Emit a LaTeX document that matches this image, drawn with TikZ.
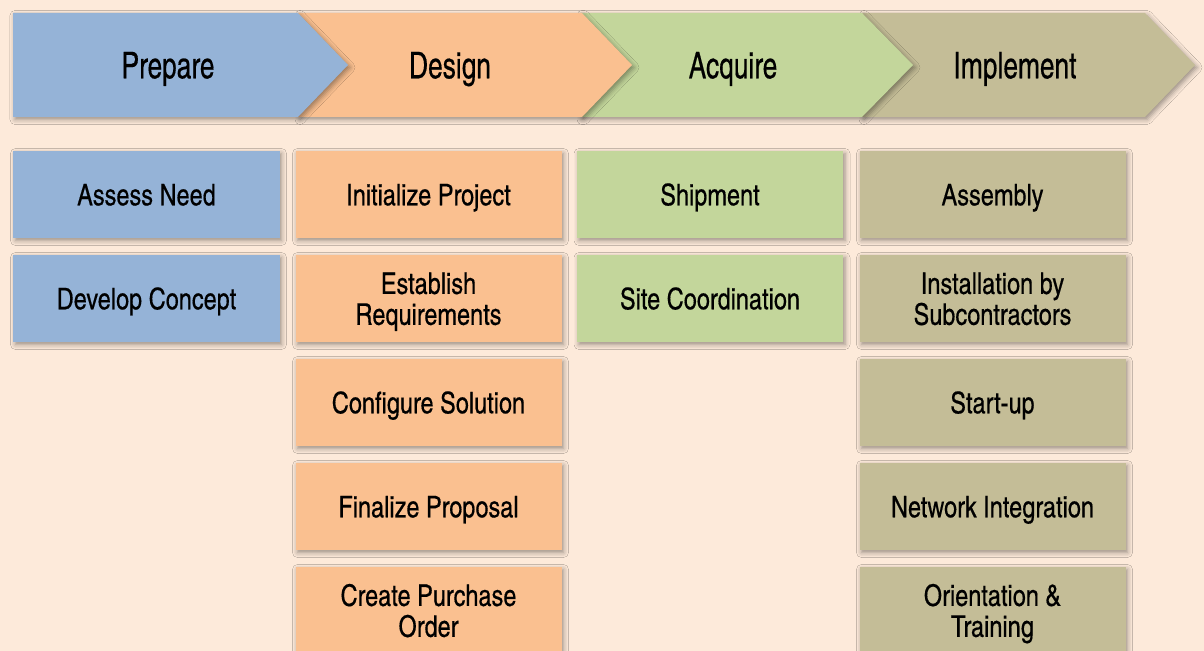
\documentclass[tikz,border=0pt]{standalone}
\usepackage{fontspec}
\setmainfont{texgyreheroscn-regular.otf}
\newfontfamily\phasefont[FakeStretch=0.87,FakeBold=0.4]{texgyreheroscn-regular.otf}
\newfontfamily\boxfont[FakeStretch=0.96,FakeBold=0.4]{texgyreheroscn-regular.otf}
\usetikzlibrary{shadows.blur}
\definecolor{bg}{HTML}{FDEADA}
\definecolor{cblue}{HTML}{95B3D7}
\definecolor{corange}{HTML}{FAC090}
\definecolor{cgreen}{HTML}{C3D69B}
\definecolor{ctan}{HTML}{C4BD97}
\tikzset{
  shad/.style={blur shadow={shadow xshift=2bp, shadow yshift=-2.5bp, shadow blur radius=5bp, shadow opacity=40}},
  chev/.style={shad},
  phase/.style={font=\phasefont\fontsize{37}{40}\selectfont, inner sep=0pt, text height=26.6bp, text depth=0pt},
  box/.style={shad, minimum width=266bp, minimum height=87bp, inner sep=0pt, align=center, font=\boxfont\fontsize{30}{31}\selectfont},
  one/.style={text height=21.6bp, text depth=0pt},
  two/.style={text height=52.6bp, text depth=0pt},
}
\begin{document}
\begin{tikzpicture}[x=1bp,y=-1bp]
\fill[bg] (0,0) rectangle (1204,651);
\useasboundingbox (0,0) rectangle (1204,651);
% chevrons, drawn right to left so each tip overlaps the next
\fill[ctan, chev] (862,13) -- (1145,13) -- (1195,65) -- (1145,117) -- (862,117) -- cycle;
\fill[cgreen, chev] (580,13) -- (862,13) -- (913,65) -- (862,117) -- (580,117) -- cycle;
\fill[corange, chev] (298,13) -- (582,13) -- (632,65) -- (582,117) -- (298,117) -- cycle;
\fill[cblue, chev] (13,13) -- (298,13) -- (348,65) -- (298,117) -- (13,117) -- cycle;
\node[phase] (prepare) at (168,65) {Prepare};
\node[phase] (design) at (450,65) {Design};
\node[phase] (acquire) at (733,65) {Acquire};
\node[phase] (implement) at (1015,65) {Implement};
% Prepare
\node[box, one, fill=cblue] (p1) at (146.5,194.5) {Assess Need};
\node[box, one, fill=cblue] (p2) at (146.5,298.5) {Develop Concept};
% Design
\node[box, one, fill=corange] (d1) at (428.5,194.5) {Initialize Project};
\node[box, two, fill=corange] (d2) at (428.5,298.5) {Establish\\Requirements};
\node[box, one, fill=corange] (d3) at (428.5,402.5) {Configure Solution};
\node[box, one, fill=corange] (d4) at (428.5,506.5) {Finalize Proposal};
\node[box, two, fill=corange] (d5) at (428.5,610.5) {Create Purchase\\Order};
% Acquire
\node[box, one, fill=cgreen] (a1) at (710,194.5) {Shipment};
\node[box, one, fill=cgreen] (a2) at (710,298.5) {Site Coordination};
% Implement
\node[box, one, fill=ctan] (i1) at (992.5,194.5) {Assembly};
\node[box, two, fill=ctan] (i2) at (992.5,298.5) {Installation by\\Subcontractors};
\node[box, one, fill=ctan] (i3) at (992.5,402.5) {Start-up};
\node[box, one, fill=ctan] (i4) at (992.5,506.5) {Network Integration};
\node[box, two, fill=ctan] (i5) at (992.5,610.5) {Orientation \&\\Training};
\end{tikzpicture}
\end{document}
